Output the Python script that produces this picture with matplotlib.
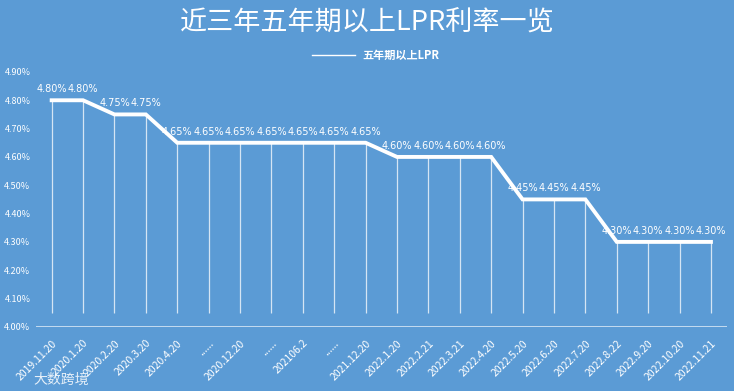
import numpy as np
import matplotlib
matplotlib.use('Agg')
import matplotlib.pyplot as plt

plt.rcParams['font.family'] = ['Noto Sans CJK SC', 'DejaVu Sans']

# 五年期以上LPR
dates = ['2019.11.20', '2020.1.20', '2020.2.20', '2020.3.20', '2020.4.20', '......',
         '2020.12.20', '......', '202106.2', '......', '2021.12.20', '2022.1.20',
         '2022.2.21', '2022.3.21', '2022.4.20', '2022.5.20', '2022.6.20', '2022.7.20',
         '2022.8.22', '2022.9.20', '2022.10.20', '2022.11.21']
lpr = [4.80, 4.80, 4.75, 4.75, 4.65, 4.65, 4.65, 4.65, 4.65, 4.65, 4.65,
       4.60, 4.60, 4.60, 4.60, 4.45, 4.45, 4.45, 4.30, 4.30, 4.30, 4.30]
yticks = [4.0, 4.1, 4.2, 4.3, 4.4, 4.5, 4.6, 4.7, 4.8, 4.9]

BG = '#5b9bd5'
fig = plt.figure(figsize=(7.34, 3.91), dpi=100, facecolor=BG)
ax = fig.add_axes([0.049, 0.164, 0.941, 0.652], facecolor=BG)

x = np.arange(len(lpr))
ymin = 4.0
ax.vlines(x, ymin + 0.05, lpr, color='white', lw=0.9, alpha=0.75)
ax.plot(x, lpr, color='white', lw=2.8, solid_joinstyle='miter')
for xi, v in zip(x, lpr):
    ax.text(xi, v + 0.022, '%.2f%%' % v, ha='center', va='bottom',
            color='white', fontsize=7, family='DejaVu Sans')

ax.axhline(ymin, color='#d6e6f5', lw=1.2)
ax.set_xlim(-0.5, len(lpr) - 0.5)
ax.set_ylim(ymin, 4.9)
ax.set_yticks(yticks)
ax.set_yticklabels(['%.2f%%' % t for t in yticks], color='white', fontsize=6.5)
ax.set_xticks(x)
ax.set_xticklabels(dates, rotation=45, ha='right', rotation_mode='anchor',
                   color='white', fontsize=7.5)
ax.tick_params(axis='x', length=0, pad=8)
ax.tick_params(axis='y', length=0, pad=4)
for s in ax.spines.values():
    s.set_visible(False)

fig.text(0.5, 0.942, '近三年五年期以上LPR利率一览', ha='center', va='center',
         color='white', fontsize=19.5)
fig.add_artist(plt.Line2D([0.425, 0.484], [0.859, 0.859], color='white', lw=1))
fig.text(0.494, 0.859, '五年期以上LPR', ha='left', va='center', color='white',
         fontsize=8, fontweight='bold')
fig.text(0.045, 0.03, '大数跨境', ha='left', va='center', color='white', fontsize=10, alpha=0.85)

fig.savefig('out.png', dpi=100, facecolor=BG)
